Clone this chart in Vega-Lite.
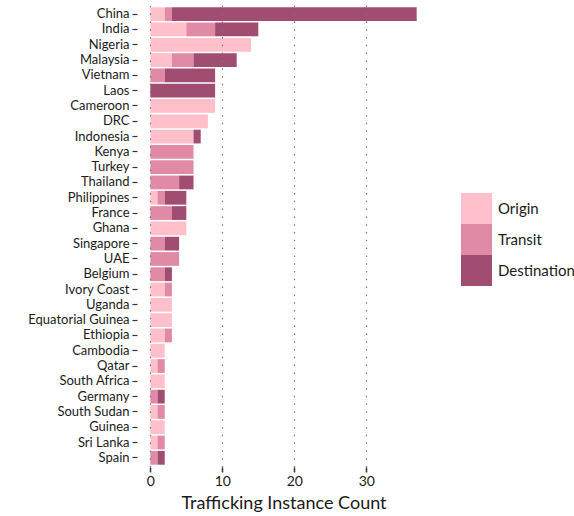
{
  "$schema": "https://vega.github.io/schema/vega-lite/v6.json",
  "autosize": {"type": "none"},
  "padding": {"left": 137, "top": 5, "right": 144, "bottom": 49},
  "width": 293,
  "height": 462,
  "background": "white",
  "config": {
    "font": "Lato",
    "view": {"stroke": null},
    "axis": {"domain": false, "labelFont": "Lato", "titleFont": "Lato"}
  },
  "data": {
    "values": [
      {"country": "China", "role": "Origin", "count": 2},
      {"country": "China", "role": "Transit", "count": 1},
      {"country": "China", "role": "Destination", "count": 34},
      {"country": "India", "role": "Origin", "count": 5},
      {"country": "India", "role": "Transit", "count": 4},
      {"country": "India", "role": "Destination", "count": 6},
      {"country": "Nigeria", "role": "Origin", "count": 14},
      {"country": "Malaysia", "role": "Origin", "count": 3},
      {"country": "Malaysia", "role": "Transit", "count": 3},
      {"country": "Malaysia", "role": "Destination", "count": 6},
      {"country": "Vietnam", "role": "Transit", "count": 2},
      {"country": "Vietnam", "role": "Destination", "count": 7},
      {"country": "Laos", "role": "Destination", "count": 9},
      {"country": "Cameroon", "role": "Origin", "count": 9},
      {"country": "DRC", "role": "Origin", "count": 8},
      {"country": "Indonesia", "role": "Origin", "count": 6},
      {"country": "Indonesia", "role": "Destination", "count": 1},
      {"country": "Kenya", "role": "Transit", "count": 6},
      {"country": "Turkey", "role": "Transit", "count": 6},
      {"country": "Thailand", "role": "Transit", "count": 4},
      {"country": "Thailand", "role": "Destination", "count": 2},
      {"country": "Philippines", "role": "Origin", "count": 1},
      {"country": "Philippines", "role": "Transit", "count": 1},
      {"country": "Philippines", "role": "Destination", "count": 3},
      {"country": "France", "role": "Transit", "count": 3},
      {"country": "France", "role": "Destination", "count": 2},
      {"country": "Ghana", "role": "Origin", "count": 5},
      {"country": "Singapore", "role": "Transit", "count": 2},
      {"country": "Singapore", "role": "Destination", "count": 2},
      {"country": "UAE", "role": "Transit", "count": 4},
      {"country": "Belgium", "role": "Transit", "count": 2},
      {"country": "Belgium", "role": "Destination", "count": 1},
      {"country": "Ivory Coast", "role": "Origin", "count": 2},
      {"country": "Ivory Coast", "role": "Transit", "count": 1},
      {"country": "Uganda", "role": "Origin", "count": 3},
      {"country": "Equatorial Guinea", "role": "Origin", "count": 3},
      {"country": "Ethiopia", "role": "Origin", "count": 2},
      {"country": "Ethiopia", "role": "Transit", "count": 1},
      {"country": "Cambodia", "role": "Origin", "count": 2},
      {"country": "Qatar", "role": "Origin", "count": 1},
      {"country": "Qatar", "role": "Transit", "count": 1},
      {"country": "South Africa", "role": "Origin", "count": 2},
      {"country": "Germany", "role": "Transit", "count": 1},
      {"country": "Germany", "role": "Destination", "count": 1},
      {"country": "South Sudan", "role": "Origin", "count": 1},
      {"country": "South Sudan", "role": "Transit", "count": 1},
      {"country": "Guinea", "role": "Origin", "count": 2},
      {"country": "Sri Lanka", "role": "Origin", "count": 1},
      {"country": "Sri Lanka", "role": "Transit", "count": 1},
      {"country": "Spain", "role": "Transit", "count": 1},
      {"country": "Spain", "role": "Destination", "count": 1}
    ]
  },
  "transform": [
    {"calculate": "indexof(['Origin','Transit','Destination'], datum.role)", "as": "roleOrder"}
  ],
  "mark": {"type": "bar", "opacity": 1},
  "encoding": {
    "y": {
      "field": "country",
      "type": "nominal",
      "sort": ["China","India","Nigeria","Malaysia","Vietnam","Laos","Cameroon","DRC","Indonesia","Kenya","Turkey","Thailand","Philippines","France","Ghana","Singapore","UAE","Belgium","Ivory Coast","Uganda","Equatorial Guinea","Ethiopia","Cambodia","Qatar","South Africa","Germany","South Sudan","Guinea","Sri Lanka","Spain"],
      "scale": {"paddingInner": 0.1, "paddingOuter": 0.15},
      "axis": {
        "title": null,
        "labelFontSize": 13,
        "labelColor": "#1a1a1a",
        "labelPadding": 3,
        "tickColor": "#333333",
        "tickSize": 5,
        "tickWidth": 1.2,
        "grid": false
      }
    },
    "x": {
      "field": "count",
      "type": "quantitative",
      "stack": "zero",
      "scale": {"domain": [-1.85, 38.85], "nice": false, "zero": false},
      "axis": {
        "title": "Trafficking Instance Count",
        "titleFontSize": 18,
        "titleFontWeight": "normal",
        "titleColor": "#1a1a1a",
        "titlePadding": 6,
        "values": [0, 10, 20, 30],
        "labelFontSize": 14,
        "labelColor": "#1a1a1a",
        "labelPadding": 2,
        "tickColor": "#333333",
        "tickSize": 5,
        "tickWidth": 1.5,
        "grid": true,
        "gridColor": "#777777",
        "gridDash": [1.5, 6.3],
        "gridWidth": 1.2,
        "zindex": 1
      }
    },
    "color": {
      "field": "role",
      "type": "nominal",
      "scale": {"domain": ["Origin", "Transit", "Destination"], "range": ["#FFC0CB", "#E08AA5", "#A14D72"]},
      "legend": {
        "title": null,
        "orient": "none",
        "legendX": 324,
        "legendY": 188,
        "symbolType": "square",
        "symbolSize": 961,
        "symbolStrokeWidth": 0,
        "symbolOpacity": 1,
        "rowPadding": 0,
        "labelFontSize": 15,
        "labelColor": "#1a1a1a",
        "labelOffset": 6
      }
    },
    "order": {"field": "roleOrder", "type": "quantitative", "sort": "ascending"}
  }
}
